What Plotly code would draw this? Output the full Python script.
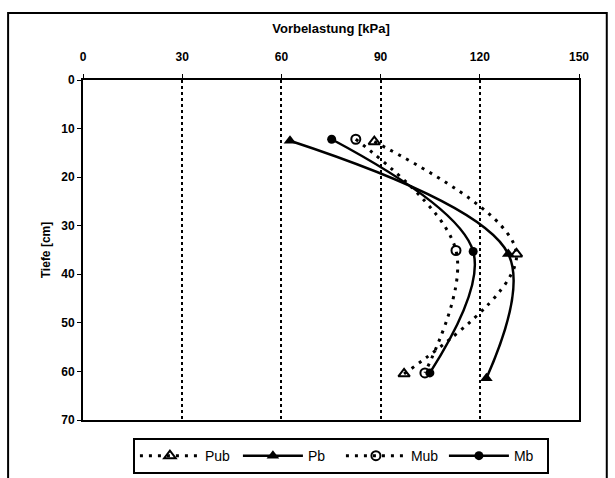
import plotly.graph_objects as go

# Data
pub_x = [88.1, 131.1, 97.1]
pub_d = [12.7, 35.8, 60.5]
pb_x = [62.6, 128.6, 122.0]
pb_d = [12.5, 35.8, 61.4]
mub_x = [82.5, 112.8, 103.4]
mub_d = [12.2, 35.1, 60.3]
mb_x = [75.2, 118.0, 104.9]
mb_d = [12.2, 35.3, 60.3]

x_ticks = [0, 30, 60, 90, 120, 150]
y_ticks = [0, 10, 20, 30, 40, 50, 60, 70]

FONT = "Liberation Sans"

fig = go.Figure()
fig.add_trace(go.Scatter(x=pub_x, y=pub_d, name="Pub", mode="lines+markers",
                         line=dict(color="black", width=3, dash="3px,6px", shape="spline"),
                         marker=dict(symbol="triangle-up-open", size=10, color="black",
                                     line=dict(width=2, color="black"))))
fig.add_trace(go.Scatter(x=pb_x, y=pb_d, name="Pb", mode="lines+markers",
                         line=dict(color="black", width=2.5, shape="spline"),
                         marker=dict(symbol="triangle-up", size=11, color="black")))
fig.add_trace(go.Scatter(x=mub_x, y=mub_d, name="Mub", mode="lines+markers",
                         line=dict(color="black", width=3, dash="3px,6px", shape="spline"),
                         marker=dict(symbol="circle-open", size=9, color="black",
                                     line=dict(width=2, color="black"))))
fig.add_trace(go.Scatter(x=mb_x, y=mb_d, name="Mb", mode="lines+markers",
                         line=dict(color="black", width=2.5, shape="spline"),
                         marker=dict(symbol="circle", size=9, color="black")))

fig.update_layout(
    width=615, height=478,
    margin=dict(l=83, r=36, t=80, b=58, autoexpand=False),
    paper_bgcolor="white", plot_bgcolor="white",
    font=dict(family=FONT, color="black", size=12),
    xaxis=dict(side="top", range=[0, 150], tickvals=x_ticks,
               ticktext=[str(v) for v in x_ticks],
               tickfont=dict(family=FONT, size=12, weight="bold"),
               ticklabelstandoff=8,
               title=dict(text="Vorbelastung [kPa]", standoff=14,
                          font=dict(family=FONT, size=13, weight="bold")),
               showgrid=True, gridcolor="black", griddash="dot", gridwidth=2,
               showline=True, linecolor="black", linewidth=2, mirror=True,
               ticks="outside", ticklen=4, tickcolor="black", zeroline=False),
    yaxis=dict(range=[70, 0], tickvals=y_ticks,
               ticktext=[str(v) for v in y_ticks],
               tickfont=dict(family=FONT, size=12, weight="bold"),
               title=dict(text="Tiefe [cm]", standoff=8,
                          font=dict(family=FONT, size=12, weight="bold")),
               showgrid=False,
               showline=True, linecolor="black", linewidth=2, mirror=True,
               ticks="outside", ticklen=4, tickcolor="black", zeroline=False),
    legend=dict(orientation="h", x=0.52, y=-0.106, xanchor="center", yanchor="middle",
                bordercolor="black", borderwidth=2, bgcolor="white",
                font=dict(family=FONT, size=14), entrywidth=28,
                tracegroupgap=0, itemwidth=60),
    showlegend=True,
)

fig.add_shape(type="rect", xref="paper", yref="paper",
              x0=-0.151, x1=1.056, y0=-0.25, y1=1.197,
              line=dict(color="black", width=2), layer="below")

fig.write_html("out.html")
